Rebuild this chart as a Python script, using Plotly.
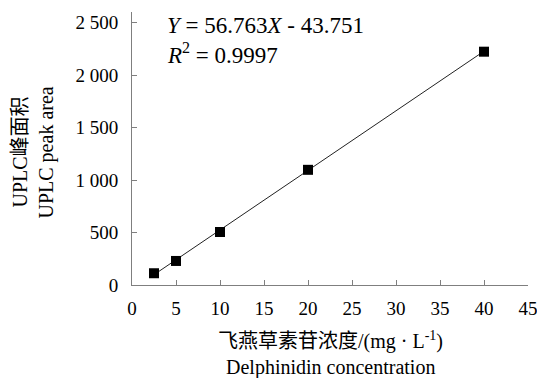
import numpy as np
import plotly.graph_objects as go

# Data
conc = [2.5, 5, 10, 20, 40]
area = [112, 229, 505, 1097, 2222]
slope = 56.763
intercept = -43.751
r2 = 0.9997

x_ticks = [0, 5, 10, 15, 20, 25, 30, 35, 40, 45]
y_ticks = [0, 500, 1000, 1500, 2000, 2500]
y_tick_labels = ["0", "500", "1 000", "1 500", "2 000", "2 500"]

serif = "Liberation Serif, Noto Sans CJK SC, serif"

fit_x = np.array([min(conc), max(conc)])
fit_y = slope * fit_x + intercept

fig = go.Figure()
fig.add_trace(go.Scatter(x=fit_x, y=fit_y, mode="lines",
                         line=dict(color="#222222", width=1), showlegend=False))
fig.add_trace(go.Scatter(x=conc, y=area, mode="markers",
                         marker=dict(symbol="square", size=10, color="black"),
                         showlegend=False, cliponaxis=False))

axis_common = dict(showline=True, linecolor="#7f7f7f", linewidth=1,
                   ticks="inside", ticklen=5, tickcolor="#7f7f7f",
                   showgrid=False, zeroline=False, ticklabeloverflow="allow",
                   automargin=False,
                   tickfont=dict(family=serif, size=19, color="black"))

fig.update_xaxes(range=[0, 45], tickvals=x_ticks, ticklabelstandoff=6, **axis_common)
fig.update_yaxes(range=[0, 2600], tickvals=y_ticks, ticktext=y_tick_labels,
                 ticklabelstandoff=9, **axis_common)

eq_font = dict(family=serif, size=23, color="black")
fig.add_annotation(text="<i>Y</i> = 56.763<i>X</i> - 43.751", xref="paper", yref="paper",
                   x=0.09, y=1.0, xanchor="left", yanchor="middle", showarrow=False,
                   yshift=-13, xshift=-3, font=eq_font)
fig.add_annotation(text="<i>R</i><sup>2</sup> = 0.9997", xref="paper", yref="paper",
                   x=0.09, y=1.0, xanchor="left", yanchor="middle", showarrow=False,
                   yshift=-41, xshift=-3, font=eq_font)

title_font = dict(family=serif, size=20, color="black")
fig.add_annotation(text="飞燕草素苷浓度/(mg · L<sup>-1</sup>)", xref="paper", yref="paper",
                   x=0.5, y=0, xanchor="center", yanchor="middle", showarrow=False,
                   yshift=-55, font=title_font)
fig.add_annotation(text="Delphinidin concentration", xref="paper", yref="paper",
                   x=0.5, y=0, xanchor="center", yanchor="middle", showarrow=False,
                   yshift=-82, font=title_font)

fig.add_annotation(text="UPLC峰面积", xref="paper", yref="paper",
                   x=0, y=0.5, xanchor="center", yanchor="middle", showarrow=False,
                   xshift=-113, yshift=-4, textangle=-90, font=title_font)
fig.add_annotation(text="UPLC peak area", xref="paper", yref="paper",
                   x=0, y=0.5, xanchor="center", yanchor="middle", showarrow=False,
                   xshift=-86, yshift=-4, textangle=-90, font=title_font)

fig.update_layout(width=537, height=378,
                  margin=dict(l=132, r=9, t=12, b=93, autoexpand=False),
                  paper_bgcolor="white", plot_bgcolor="white")

# Remove the default page margin so the 537x378 figure fills the window exactly.
fig.write_html("out.html", config={"displayModeBar": False},
               post_script="document.body.style.margin='0';document.body.style.overflow='hidden';")
